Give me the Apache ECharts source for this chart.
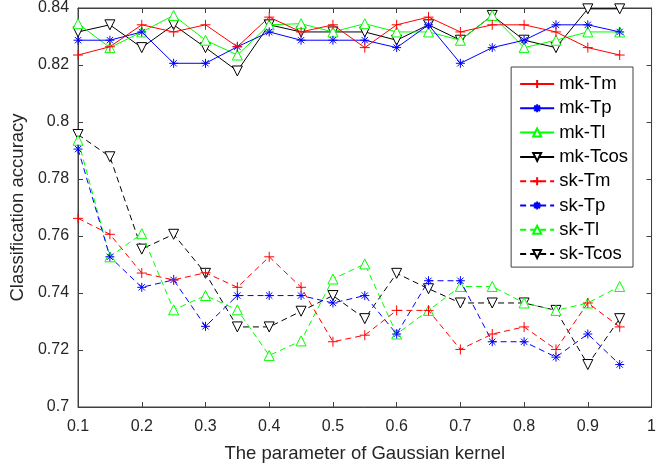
<!DOCTYPE html>
<html>
<head>
<meta charset="utf-8">
<script src="https://cdn.jsdelivr.net/npm/echarts@6/dist/echarts.min.js"></script>
<style>html,body{margin:0;padding:0;background:#fff}#c{width:659px;height:469px}</style>
</head>
<body>
<div id="c"></div>
<script>
var xValues = [0.1,0.15,0.2,0.25,0.3,0.35,0.4,0.45,0.5,0.55,0.6,0.65,0.7,0.75,0.8,0.85,0.9,0.95];
var mkTm   = [0.8235,0.8264,0.8341,0.8316,0.8341,0.8264,0.8368,0.8316,0.8341,0.8261,0.8341,0.8368,0.8316,0.8341,0.8341,0.8316,0.8261,0.8235];
var mkTp   = [0.8287,0.8287,0.8316,0.8206,0.8206,0.8264,0.8316,0.8287,0.8287,0.8287,0.8261,0.8341,0.8206,0.8261,0.8287,0.8341,0.8341,0.8316];
var mkTl   = [0.8345,0.8261,0.8316,0.8374,0.8287,0.8235,0.8341,0.8345,0.8316,0.8345,0.8316,0.8316,0.8287,0.8374,0.8261,0.8287,0.8316,0.8316];
var mkTcos = [0.8316,0.8341,0.8261,0.8341,0.8261,0.8179,0.8341,0.8316,0.8316,0.8316,0.8287,0.8341,0.8287,0.8374,0.8287,0.8261,0.8397,0.8397];
var skTm   = [0.7662,0.7606,0.7470,0.7446,0.7471,0.7420,0.7527,0.7420,0.7229,0.7252,0.7339,0.7339,0.7202,0.7256,0.7281,0.7202,0.7365,0.7281];
var skTp   = [0.7905,0.7527,0.7420,0.7446,0.7283,0.7391,0.7391,0.7391,0.7365,0.7391,0.7256,0.7443,0.7443,0.7229,0.7229,0.7175,0.7256,0.7149];
var skTl   = [0.7936,0.7527,0.7608,0.7341,0.7391,0.7341,0.7181,0.7232,0.7449,0.7502,0.7256,0.7339,0.7423,0.7423,0.7365,0.7339,0.7365,0.7423];
var skTcos = [0.7956,0.7878,0.7554,0.7606,0.7469,0.7281,0.7281,0.7336,0.7391,0.7310,0.7469,0.7415,0.7365,0.7365,0.7365,0.7339,0.7149,0.7310];
var seriesNames = ['mk-Tm','mk-Tp','mk-Tl','mk-Tcos','sk-Tm','sk-Tp','sk-Tl','sk-Tcos'];
var seriesValues = [mkTm,mkTp,mkTl,mkTcos,skTm,skTp,skTl,skTcos];
var xTicks = {min:0.1, max:1, interval:0.1};
var yTicks = {min:0.7, max:0.84, interval:0.02};

var colors = ['#ff0000','#0000ff','#00ff00','#000000'];
var plus = 'path://M5,0L5,10M0,5L10,5';
var star = 'path://M5,0L5,10M0,5L10,5M1.5,1.5L8.5,8.5M1.5,8.5L8.5,1.5';
var symbols = [plus, star, 'triangle', 'triangle'];
var rot = [0,0,0,180];
var sizes = [10,9,10,10];
var font = 'Liberation Sans, Arial, sans-serif';
var axisCol = '#262626';
var lineCol = '#404040';

var series = seriesNames.map(function(n,i){
  var k = i % 4;
  var dashed = i >= 4;
  return {
    name: n, type: 'line',
    data: xValues.map(function(x,j){ return [x, seriesValues[i][j]]; }),
    symbol: symbols[k], symbolSize: sizes[k], symbolRotate: rot[k],
    showAllSymbol: true,
    lineStyle: {color: colors[k], width: 1, type: dashed ? [6,4] : 'solid'},
    itemStyle: {color: (k>=2 ? '#ffffff' : colors[k]), borderColor: colors[k], borderWidth: 1},
    emphasis: {disabled: true},
    animation: false, z: 10 - i
  };
});

var chart = echarts.init(document.getElementById('c'));
chart.setOption({
  backgroundColor: '#fff',
  animation: false,
  grid: {left: 75, right: 3, top: 5, bottom: 62, show: true, borderColor: lineCol, borderWidth: 1},
  legend: {
    orient: 'vertical', right: 26, top: 67,
    backgroundColor: '#fff', borderColor: lineCol, borderWidth: 1,
    padding: [7, 5, 3, 8], itemGap: 4.3, itemWidth: 34, itemHeight: 10,
    textStyle: {fontFamily: font, fontSize: 18.5, color: '#000', lineHeight: 20},
    data: seriesNames
  },
  xAxis: [{
    type: 'value', min: xTicks.min, max: xTicks.max, interval: xTicks.interval,
    name: 'The parameter of Gaussian kernel', nameLocation: 'middle', nameGap: 37,
    nameTextStyle: {fontFamily: font, fontSize: 18.5, color: axisCol},
    axisLine: {lineStyle: {color: lineCol}},
    axisTick: {inside: true, length: 5, lineStyle: {color: lineCol}},
    axisLabel: {fontFamily: font, fontSize: 16, color: axisCol, margin: 12,
      formatter: function(v){ return String(+v.toFixed(2)); }},
    splitLine: {show: false}
  },{
    type: 'value', position: 'top', min: xTicks.min, max: xTicks.max, interval: xTicks.interval,
    axisLine: {lineStyle: {color: lineCol}},
    axisTick: {inside: true, length: 5, lineStyle: {color: lineCol}},
    axisLabel: {show: false}, splitLine: {show: false}
  }],
  yAxis: [{
    type: 'value', min: yTicks.min, max: yTicks.max, interval: yTicks.interval,
    name: 'Classification accuracy', nameLocation: 'middle', nameGap: 47,
    nameTextStyle: {fontFamily: font, fontSize: 18.5, color: axisCol},
    axisLine: {lineStyle: {color: lineCol}},
    axisTick: {inside: true, length: 5, lineStyle: {color: lineCol}},
    axisLabel: {fontFamily: font, fontSize: 16, color: axisCol, margin: 9,
      formatter: function(v){ return String(+v.toFixed(2)); }},
    splitLine: {show: false}
  },{
    type: 'value', position: 'right', min: yTicks.min, max: yTicks.max, interval: yTicks.interval,
    axisLine: {lineStyle: {color: lineCol}},
    axisTick: {inside: true, length: 5, lineStyle: {color: lineCol}},
    axisLabel: {show: false}, splitLine: {show: false}
  }],
  series: series
});
</script>
</body>
</html>
